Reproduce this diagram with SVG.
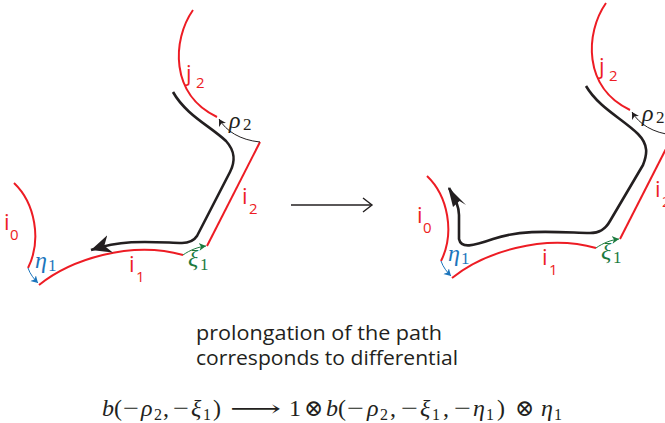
<svg xmlns="http://www.w3.org/2000/svg" xmlns:xlink="http://www.w3.org/1999/xlink" width="665" height="423" viewBox="0 0 665 423">
<style>
.red{fill:none;stroke:#ed1c24;stroke-width:2}
.blk{fill:none;stroke:#231f20;stroke-width:2.6;stroke-linejoin:round}
.thin{fill:none;stroke-width:1}
.lab{font-family:"Open Sans","Liberation Sans",sans-serif;fill:#ed1c24}
.math{font-family:"Liberation Serif","DejaVu Serif",serif;font-style:italic}
.num{font-family:"Liberation Serif","DejaVu Serif",serif}
.sym{font-family:"DejaVu Serif",serif}
.txt{font-family:"Open Sans","Liberation Sans",sans-serif;fill:#231f20;font-size:20px}
</style>
<defs>
<marker id="ahK" markerUnits="userSpaceOnUse" markerWidth="10" markerHeight="10" refX="7" refY="4" orient="auto" viewBox="0 0 10 8"><path d="M0,0 L7,4 L0,8 L2,4 Z" fill="#231f20"/></marker>
<marker id="ahG" markerUnits="userSpaceOnUse" markerWidth="10" markerHeight="10" refX="7" refY="4" orient="auto" viewBox="0 0 10 8"><path d="M0,0 L7,4 L0,8 L2,4 Z" fill="#1b7a3e"/></marker>
<marker id="ahB" markerUnits="userSpaceOnUse" markerWidth="10" markerHeight="10" refX="7" refY="4" orient="auto" viewBox="0 0 10 8"><path d="M0,0 L7,4 L0,8 L2,4 Z" fill="#1c75bc"/></marker>
<marker id="ahBig" markerUnits="userSpaceOnUse" markerWidth="24" markerHeight="20" refX="20" refY="9" orient="auto" viewBox="0 0 24 18"><path d="M0,0 L20,9 L0,18 L6,9 Z" fill="#231f20"/></marker>
<g id="common">
<path class="red" d="M193,10 C172,40 170,95 217,117"/>
<path class="red" d="M260,142 L207,246"/>
<path class="red" d="M39,285 C70,260 130,240 183,255"/>
<path class="red" d="M14,183 C35,203 42,240 28,268"/>
<path class="thin" stroke="#231f20" d="M260,142 C240,140 226,131 219,119" marker-end="url(#ahK)"/>
<path class="thin" stroke="#1b7a3e" d="M183,255 C190,250 198,247 206,246" marker-end="url(#ahG)"/>
<path class="thin" stroke="#1c75bc" d="M28,268 C30,274 34,279 38,283" marker-end="url(#ahB)"/>
<text class="lab" font-size="22" x="186" y="81">j</text>
<text class="lab" font-size="15" x="196" y="88">2</text>
<text class="lab" font-size="22" x="242" y="204">i</text>
<text class="lab" font-size="15" x="249" y="214">2</text>
<text class="lab" font-size="22" x="129" y="272">i</text>
<text class="lab" font-size="15" x="136" y="282">1</text>
<text class="lab" font-size="22" x="4" y="230">i</text>
<text class="lab" font-size="15" x="10" y="240">0</text>
<text class="math" font-size="24" x="229" y="128" fill="#231f20">ρ</text>
<text class="num" font-size="17" x="243" y="130" fill="#231f20">2</text>
<text class="math" font-size="24" x="188" y="266" fill="#1b7a3e">ξ</text>
<text class="num" font-size="17" x="200" y="270" fill="#1b7a3e">1</text>
<text class="math" font-size="24" x="35" y="268" fill="#1c75bc">η</text>
<text class="num" font-size="17" x="48" y="271" fill="#1c75bc">1</text>
</g>
</defs>
<g id="left">
<use xlink:href="#common"/>
<path class="blk" d="M173,92 C186,115 210,126 226,141 C236,152 235,162 230,172 L197,236 C193,242 188,243 182,243 C150,242 125,239 91,250" marker-end="url(#ahBig)"/>
</g>
<g id="connectors">
<path d="M291,205 L371,205" fill="none" stroke="#231f20" stroke-width="1.4"/>
<path d="M363,198 L372,205 L363,212" fill="none" stroke="#231f20" stroke-width="1.4"/>
</g>
<g id="right" transform="translate(413,-7)">
<use xlink:href="#common"/>
<path class="blk" d="M173,93 C186,115 210,126 225,141 C236,152 234,162 230,172 L197,228 C192,237 186,240 177,240 C140,239 110,236 80,246 C60,253 48,256 46,246 L46,222 C46,214 43,206 36,195"/>
<path d="M35,194 L53,212 L46.5,208 L40,214 Z" fill="#231f20"/>
</g>
<g id="caption">
<text class="txt" x="196" y="340" textLength="246" lengthAdjust="spacingAndGlyphs">prolongation of the path</text>
<text class="txt" x="196" y="365" textLength="262" lengthAdjust="spacingAndGlyphs">corresponds to differential</text>
</g>
<g id="formula" fill="#231f20" font-size="24">
<text class="math" x="102" y="416">b</text>
<text class="num" x="114" y="416">(</text>
<text class="num" x="123" y="416" textLength="16" lengthAdjust="spacingAndGlyphs">−</text>
<text class="math" x="141" y="416">ρ</text>
<text class="num" x="154" y="420" font-size="16">2</text>
<text class="num" x="163" y="416">,</text>
<text class="num" x="173" y="416" textLength="16" lengthAdjust="spacingAndGlyphs">−</text>
<text class="math" x="191" y="416">ξ</text>
<text class="num" x="203" y="420" font-size="16">1</text>
<text class="num" x="213" y="416">)</text>
<text class="sym" x="230" y="416" font-size="22" textLength="51" lengthAdjust="spacingAndGlyphs">⟶</text>
<text class="num" x="289" y="416">1</text>
<text class="sym" x="304" y="416" font-size="23">⊗</text>
<text class="math" x="326" y="416">b</text>
<text class="num" x="338" y="416">(</text>
<text class="num" x="347" y="416" textLength="17" lengthAdjust="spacingAndGlyphs">−</text>
<text class="math" x="367" y="416">ρ</text>
<text class="num" x="380" y="420" font-size="16">2</text>
<text class="num" x="390" y="416">,</text>
<text class="num" x="401" y="416" textLength="17" lengthAdjust="spacingAndGlyphs">−</text>
<text class="math" x="420" y="416">ξ</text>
<text class="num" x="432" y="420" font-size="16">1</text>
<text class="num" x="443" y="416">,</text>
<text class="num" x="454" y="416" textLength="17" lengthAdjust="spacingAndGlyphs">−</text>
<text class="math" x="473" y="416">η</text>
<text class="num" x="486" y="420" font-size="16">1</text>
<text class="num" x="497" y="416">)</text>
<text class="sym" x="515" y="416" font-size="23">⊗</text>
<text class="math" x="541" y="416">η</text>
<text class="num" x="554" y="420" font-size="16">1</text>
</g>
</svg>
